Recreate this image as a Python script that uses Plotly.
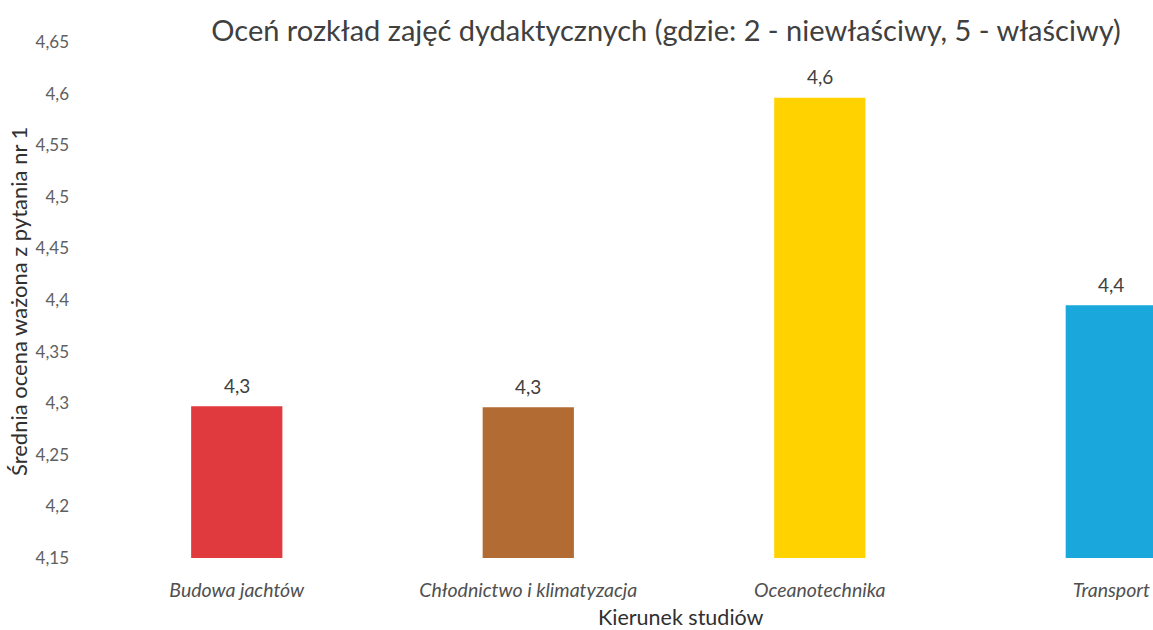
import plotly.graph_objects as go

categories = ["Budowa jachtów", "Chłodnictwo i klimatyzacja", "Oceanotechnika", "Transport"]
values = [4.297, 4.296, 4.596, 4.395]
colors = ["#E0393E", "#B26B33", "#FFD200", "#1AA8DC"]
y_ticks = [4.15, 4.2, 4.25, 4.3, 4.35, 4.4, 4.45, 4.5, 4.55, 4.6, 4.65]
y_tick_text = ["4,15", "4,2", "4,25", "4,3", "4,35", "4,4", "4,45", "4,5", "4,55", "4,6", "4,65"]
value_text = [f"{v:.1f}".replace(".", ",") for v in values]

FONT = "Lato, Open Sans, sans-serif"
GRAY = "#505050"

W, H = 1153, 630
L, T, B = 91, 42, 72
PW, PH = W - L, H - T - B

fig = go.Figure(go.Bar(
    x=categories,
    y=values,
    base=0,
    marker=dict(color=colors, line=dict(width=0)),
    width=0.313,
    hoverinfo="x+y",
))

for c, v, t in zip(categories, values, value_text):
    fig.add_annotation(
        x=c, y=v, text=t, showarrow=False,
        yanchor="middle", yshift=21,
        font=dict(family=FONT, size=19, color="#404040"),
    )

fig.add_annotation(
    xref="paper", yref="paper", x=(681 - L) / PW, y=-(617 - (H - B)) / PH,
    text="Kierunek studiów", showarrow=False, xanchor="center", yanchor="middle",
    font=dict(family=FONT, size=21.5, color="#303030"),
)
fig.add_annotation(
    xref="paper", yref="paper", x=(18 - L) / PW, y=((H - B) - 302) / PH,
    text="Średnia ocena ważona z pytania nr 1", showarrow=False, textangle=-90,
    xanchor="center", yanchor="middle",
    font=dict(family=FONT, size=22, color="#303030"),
)

fig.update_layout(
    width=W, height=H,
    margin=dict(l=L, r=0, t=T, b=B),
    paper_bgcolor="white", plot_bgcolor="white",
    showlegend=False,
    title=dict(
        text="Oceń rozkład zajęć dydaktycznych (gdzie: 2 - niewłaściwy, 5 - właściwy)",
        x=666 / W, xanchor="center", y=1 - 31 / H, yanchor="middle",
        font=dict(family=FONT, size=29, color="#404040"),
    ),
    xaxis=dict(
        range=[-0.5, 3.143],
        showgrid=False, showline=False, zeroline=False, automargin=False,
        ticks="", ticklabelstandoff=18,
        tickfont=dict(family=FONT, size=19.5, color=GRAY, style="italic"),
    ),
    yaxis=dict(
        range=[4.15, 4.65],
        tickvals=y_ticks, ticktext=y_tick_text,
        showgrid=False, showline=False, zeroline=False, automargin=False,
        ticks="", ticklabelstandoff=21,
        tickfont=dict(family=FONT, size=17, color="#606060"),
    ),
)

fig.write_html(
    "out.html",
    config={"displayModeBar": False},
    post_script="document.body.style.margin='0';document.body.style.overflow='hidden';",
)
